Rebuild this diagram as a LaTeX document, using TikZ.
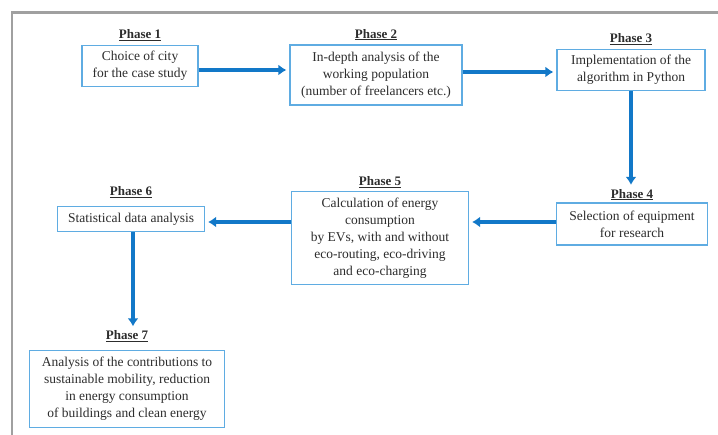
\documentclass[tikz,border=0pt]{standalone}
\usepackage{fontspec}
\setmainfont{Liberation Serif}
\usetikzlibrary{arrows.meta, positioning}
\definecolor{flowBlue}{RGB}{18,120,200}
\definecolor{boxBlue}{RGB}{95,172,226}
\definecolor{frameGray}{RGB}{160,160,160}
\definecolor{inkGray}{RGB}{45,45,45}
\tikzset{
    phaseBox/.style={draw=boxBlue, line width=1.2pt, fill=white, align=center, inner sep=2pt,
        text=inkGray, font=\fontsize{13.5}{17}\selectfont},
    phaseTitle/.style={font=\fontsize{13}{14}\selectfont\bfseries, text=inkGray, inner sep=1pt},
    flowArrow/.style={-{Latex[length=8pt, width=11pt]}, draw=flowBlue, line width=4.5pt, shorten >=3pt},
}

\begin{document}
\begin{tikzpicture}[x=1pt, y=-1pt]
        \useasboundingbox (0,0) rectangle (718,435);
        % frame
        \draw[frameGray, line width=2.5pt] (12,435) -- (12,12.5) -- (718,12.5);

        \node[phaseBox, minimum width=116pt, minimum height=41pt] (p1) at (140,66) {Choice of city\\for the case study};
        \node[phaseBox, minimum width=172pt, minimum height=60pt] (p2) at (376,75) {In-depth analysis of the\\working population\\(number of freelancers etc.)};
        \node[phaseBox, minimum width=148pt, minimum height=41pt] (p3) at (631,70) {Implementation of the\\algorithm in Python};
        \node[phaseBox, minimum width=151pt, minimum height=42pt] (p4) at (632,224) {Selection of equipment\\for research};
        \node[phaseBox, minimum width=177pt, minimum height=93pt] (p5) at (380,238) {Calculation of energy\\consumption\\by EVs, with and without\\eco-routing, eco-driving\\and eco-charging};
        \node[phaseBox, minimum width=147pt, minimum height=25pt] (p6) at (131,219) {Statistical data analysis};
        \node[phaseBox, minimum width=195pt, minimum height=77pt] (p7) at (127,389) {Analysis of the contributions to\\sustainable mobility, reduction\\in energy consumption\\of buildings and clean energy};

        \node[phaseTitle, above=3pt of p1] (t1) {\underline{Phase 1}};
        \node[phaseTitle, above=3pt of p2] (t2) {\underline{Phase 2}};
        \node[phaseTitle, above=3pt of p3] (t3) {\underline{Phase 3}};
        \node[phaseTitle, above=1pt of p4] (t4) {\underline{Phase 4}};
        \node[phaseTitle, above=2pt of p5] (t5) {\underline{Phase 5}};
        \node[phaseTitle, above=7pt of p6] (t6) {\underline{Phase 6}};
        \node[phaseTitle, above=7pt of p7] (t7) {\underline{Phase 7}};

        \draw[flowArrow] ([yshift=-4pt]p1.east) -- ([yshift=-4pt]p1.east -| p2.west);
        \draw[flowArrow] ([yshift=-2pt]p3.west -| p2.east) -- ([yshift=-2pt]p3.west);
        \draw[flowArrow] (p3.south) -- (p3.south |- t4.north);
        \draw[flowArrow] ([yshift=2pt]p4.west) -- ([yshift=2pt]p4.west -| p5.east);
        \draw[flowArrow] ([yshift=-3pt]p6.east -| p5.west) -- ([yshift=-3pt]p6.east);
        \draw[flowArrow] ([xshift=2pt]p6.south) -- ([xshift=2pt]p6.south |- t7.north);
    \end{tikzpicture}
\end{document}
